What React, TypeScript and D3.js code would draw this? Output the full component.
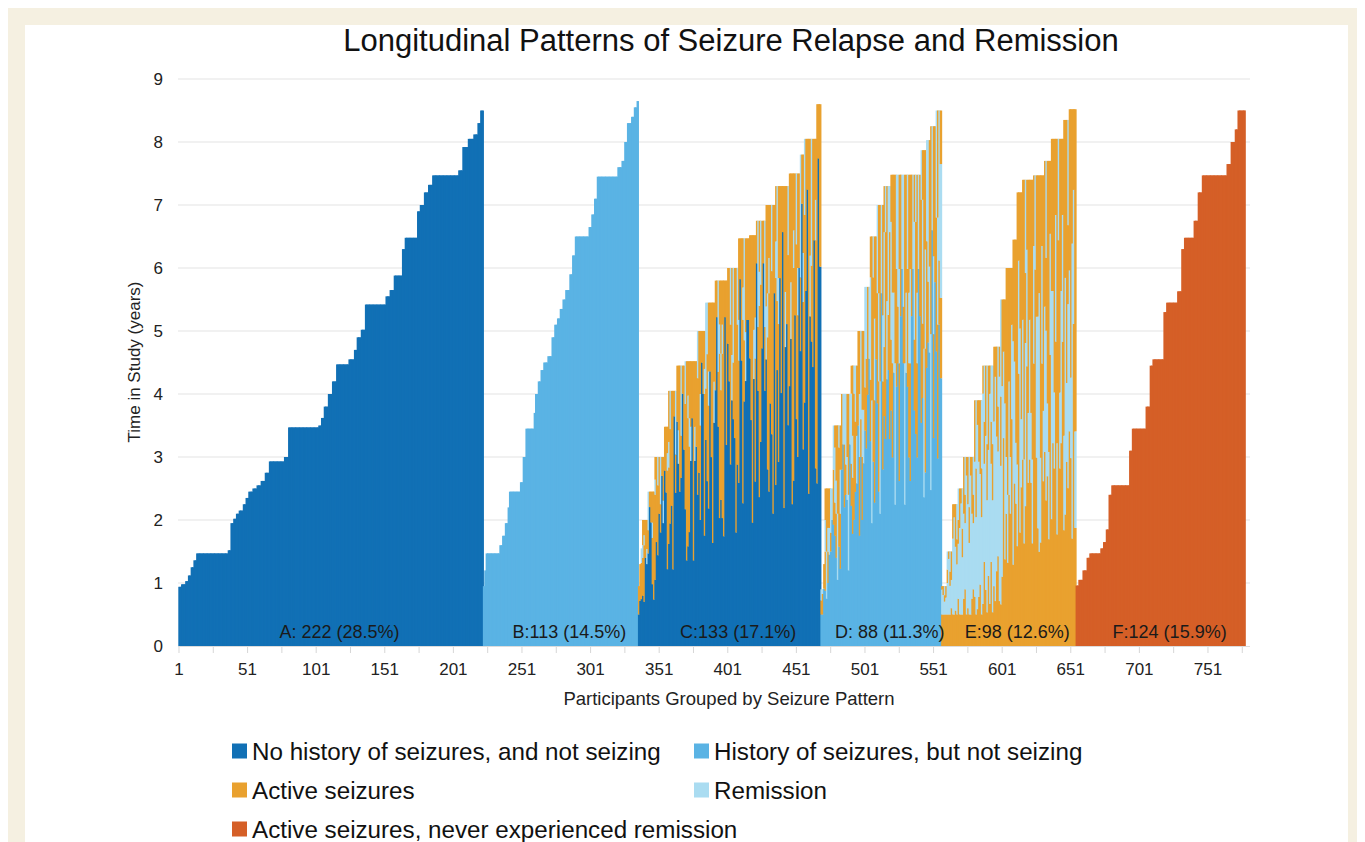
import React from "react";
import * as d3 from "d3";

// ---------- DATA ----------
const STATE_KEYS = ["N", "H", "A", "R", "F"];
const STATE_NAMES = [
  "No history of seizures, and not seizing",
  "History of seizures, but not seizing",
  "Active seizures",
  "Remission",
  "Active seizures, never experienced remission",
];
const STATE_COLORS = ["#1170b5", "#5ab3e4", "#e9a12f", "#aadcf1", "#d55f27"];

const GROUP_LABELS = [
  "A: 222 (28.5%)",
  "B:113 (14.5%)",
  "C:133 (17.1%)",
  "D: 88 (11.3%)",
  "E:98 (12.6%)",
  "F:124 (15.9%)",
];
const GROUP_BASE = ["N", "H", "N", "H", "A", "F"];

// time in study (years), run-length: [number of participants, years]
const A_RUNS = [
  [2, 0.94], [3, 0.98], [2, 1.03], [2, 1.12], [2, 1.25], [2, 1.36], [23, 1.47], [2, 1.52],
  [2, 1.95], [2, 2.02], [2, 2.1], [3, 2.15], [2, 2.25], [2, 2.35], [3, 2.45], [3, 2.5],
  [3, 2.55], [3, 2.62], [3, 2.75], [11, 2.93], [3, 3.0], [22, 3.47], [2, 3.5], [2, 3.62],
  [3, 3.8], [3, 4.0], [3, 4.2], [9, 4.47], [4, 4.55], [2, 4.7], [3, 4.9], [3, 5.02],
  [15, 5.42], [3, 5.55], [3, 5.65], [6, 5.88], [2, 6.3], [9, 6.48], [2, 6.9], [3, 7.0],
  [3, 7.2], [3, 7.32], [19, 7.47], [3, 7.55], [4, 7.92], [4, 8.05], [3, 8.12], [2, 8.3], [2, 8.5],
];
const B_RUNS = [
  [1, 0.95], [1, 1.2], [10, 1.47], [2, 1.6], [2, 1.75], [2, 1.95], [1, 2.2], [8, 2.45],
  [2, 2.6], [2, 3.0], [6, 3.45], [1, 3.7], [2, 4.0], [2, 4.2], [2, 4.38], [3, 4.5],
  [3, 4.6], [2, 4.9], [2, 5.1], [2, 5.2], [2, 5.35], [2, 5.5], [3, 5.65], [2, 5.9],
  [2, 6.2], [10, 6.5], [2, 6.65], [2, 6.85], [2, 7.1], [15, 7.45], [3, 7.6], [2, 7.7],
  [2, 8.0], [3, 8.3], [2, 8.4], [2, 8.55], [1, 8.65],
];
const C_RUNS = [
  [1, 0.95], [1, 1.3], [1, 1.55], [4, 2.0], [5, 2.45], [7, 3.0], [3, 3.48], [6, 4.05],
  [6, 4.45], [9, 4.52], [6, 5.0], [7, 5.45], [9, 5.8], [8, 6.0], [8, 6.47], [5, 6.52],
  [7, 6.75], [7, 7.0], [10, 7.3], [8, 7.5], [3, 7.8], [9, 8.05], [3, 8.6],
];
const D_RUNS = [
  [2, 0.9], [1, 1.3], [6, 2.5], [6, 3.5], [7, 4.0], [5, 4.45], [5, 5.0], [4, 5.7],
  [5, 6.5], [5, 7.0], [5, 7.3], [22, 7.48], [4, 7.87], [3, 8.03], [4, 8.25], [4, 8.5],
];
const E_RUNS = [
  [4, 0.95], [4, 1.5], [4, 2.25], [4, 2.5], [8, 3.0], [6, 3.9], [8, 4.45], [5, 4.75],
  [4, 5.5], [5, 6.0], [3, 6.45], [4, 7.2], [8, 7.4], [8, 7.47], [5, 7.7], [9, 8.05],
  [4, 8.35], [5, 8.52],
];
const F_RUNS = [
  [2, 0.96], [3, 1.05], [3, 1.2], [2, 1.4], [8, 1.47], [2, 1.55], [2, 1.65], [2, 1.85],
  [2, 2.4], [13, 2.55], [2, 3.1], [10, 3.45], [3, 3.8], [2, 4.45], [8, 4.55], [2, 5.3],
  [8, 5.45], [3, 5.63], [2, 6.3], [7, 6.48], [3, 6.75], [3, 7.2], [18, 7.47], [3, 7.65],
  [3, 8.0], [2, 8.2], [6, 8.5],
];
const GROUP_RUNS = [A_RUNS, B_RUNS, C_RUNS, D_RUNS, E_RUNS, F_RUNS];

// state sequences of the mixed groups: [state, share of the participant's time]
const C_PATTERNS = [
  [["N", 0.55], ["A", 0.45]],
  [["N", 0.4], ["A", 0.3], ["R", 0.1], ["A", 0.2]],
  [["N", 0.7], ["A", 0.3]],
  [["N", 0.3], ["A", 0.7]],
  [["N", 0.6], ["A", 0.15], ["R", 0.25]],
  [["N", 0.8], ["A", 0.2]],
  [["N", 0.48], ["A", 0.37], ["R", 0.15]],
  [["N", 0.35], ["A", 0.45], ["R", 0.08], ["A", 0.12]],
  [["N", 0.65], ["R", 0.12], ["A", 0.23]],
  [["N", 0.9], ["A", 0.1]],
];
const D_PATTERNS = [
  [["H", 0.55], ["A", 0.25], ["R", 0.2]],
  [["H", 0.4], ["A", 0.2], ["R", 0.15], ["A", 0.25]],
  [["H", 0.7], ["A", 0.3]],
  [["H", 0.3], ["R", 0.3], ["A", 0.4]],
  [["H", 0.6], ["A", 0.12], ["R", 0.28]],
  [["H", 0.45], ["A", 0.45], ["R", 0.1]],
  [["H", 0.8], ["R", 0.2]],
  [["H", 0.35], ["A", 0.25], ["R", 0.2], ["A", 0.2]],
  [["H", 0.58], ["R", 0.17], ["A", 0.25]],
  [["H", 0.5], ["A", 0.15], ["R", 0.25], ["A", 0.1]],
];
const E_PATTERNS = [
  [["A", 0.25], ["R", 0.45], ["A", 0.3]],
  [["A", 0.15], ["R", 0.75], ["A", 0.1]],
  [["A", 0.4], ["R", 0.3], ["A", 0.3]],
  [["A", 0.6], ["R", 0.25], ["A", 0.15]],
  [["A", 0.12], ["R", 0.4], ["A", 0.2], ["R", 0.28]],
  [["A", 0.35], ["R", 0.15], ["A", 0.5]],
  [["A", 0.2], ["R", 0.55], ["A", 0.25]],
  [["A", 0.8], ["R", 0.2]],
  [["A", 0.3], ["R", 0.35], ["A", 0.15], ["R", 0.2]],
  [["A", 0.22], ["R", 0.18], ["A", 0.6]],
];
const C_ORDER =
  "3061728495 1370624985 2716039458 0492637185 3826019574 6150382947 1739052684 0361927485 5203819476 2948170635 7415093826 0837261549 1629384057 392";
const D_ORDER =
  "0527318460 9135726048 3691508274 1840269357 2073619584 5918304726 4380172695 1625937048 36120749";
const E_ORDER =
  "1640814261 0486140816 4108641604 1864018461 08146 3059253625 9305298352 5937206935 2859302539 7523905825 639";
const GROUP_PATTERNS = [null, null, C_PATTERNS, D_PATTERNS, E_PATTERNS, null];
const GROUP_ORDER = [null, null, C_ORDER, D_ORDER, E_ORDER, null];
const BASE_MIN_YEARS = 0.5;

const X_TICK_LABELS = [1, 51, 101, 151, 201, 251, 301, 351, 401, 451, 501, 551, 601, 651, 701, 751];
const X_MINOR_TICKS = [1, 26, 51, 76, 101, 126, 151, 176, 201, 226, 251, 276, 301, 326, 351, 376, 401, 426, 451, 476, 501, 526, 551, 576, 601, 626, 651, 676, 701, 726, 751, 776];
const Y_TICKS = [0, 1, 2, 3, 4, 5, 6, 7, 8, 9];

// ---------- BUILD ----------
type Seg = { s: string; y0: number; y1: number };
type P = { id: number; g: number; h: number; segs: Seg[] };

function build(): P[] {
  const out: P[] = [];
  let id = 1;
  GROUP_RUNS.forEach((runs, g) => {
    const heights: number[] = [];
    runs.forEach(([n, v]) => {
      for (let k = 0; k < n; k++) heights.push(v);
    });
    const pats = GROUP_PATTERNS[g];
    const order = GROUP_ORDER[g] ? (GROUP_ORDER[g] as string).replace(/\s/g, "") : "";
    heights.forEach((h, i) => {
      let segs: Seg[];
      if (!pats) {
        segs = [{ s: GROUP_BASE[g], y0: 0, y1: h }];
      } else {
        const pat = pats[+order[i % order.length]] as [string, number][];
        const base = Math.max(pat[0][1] * h, Math.min(BASE_MIN_YEARS, h));
        const rest = h - base;
        const restShare = 1 - pat[0][1];
        segs = [{ s: pat[0][0], y0: 0, y1: base }];
        let acc = base;
        for (let k = 1; k < pat.length; k++) {
          const len = (pat[k][1] / restShare) * rest;
          segs.push({ s: pat[k][0], y0: acc, y1: acc + len });
          acc += len;
        }
      }
      out.push({ id: id++, g, h, segs });
    });
  });
  return out;
}

const FONT = "'Liberation Sans', Arial, Helvetica, sans-serif";

export default function App() {
  const parts = build();
  const total = parts.length;
  const x = d3
    .scaleBand<number>()
    .domain(parts.map((p) => p.id))
    .range([178.3, 1245.7])
    .padding(0);
  const bw = x.bandwidth();
  const y = d3.scaleLinear().domain([0, 9]).range([646, 79]);
  const color = d3.scaleOrdinal<string, string>().domain(STATE_KEYS).range(STATE_COLORS);

  const groups = GROUP_LABELS.map((lab, g) => {
    const members = parts.filter((p) => p.g === g);
    const x0 = x(members[0].id) as number;
    const x1 = (x(members[members.length - 1].id) as number) + bw;
    return { lab, cx: (x0 + x1) / 2 + 9 };
  });

  const legendItems = [
    { k: 0, x: 232, y: 751 },
    { k: 1, x: 694, y: 751 },
    { k: 2, x: 232, y: 790 },
    { k: 3, x: 694, y: 790 },
    { k: 4, x: 232, y: 829 },
  ];

  return (
    <svg width={1357} height={834} style={{ display: "block" }}>
      <g transform="translate(-8,-8)">
        <rect x={8} y={8} width={1357} height={834} fill="#f5f0e1" />
        <rect x={25} y={25} width={1323} height={830} fill="#ffffff" />
        <text x={731} y={51} textAnchor="middle" fontFamily={FONT} fontSize={31} fill="#111">
          Longitudinal Patterns of Seizure Relapse and Remission
        </text>

        {Y_TICKS.map((t) => (
          <g key={"gy" + t}>
            {t > 0 && (
              <line x1={178} x2={1250} y1={y(t)} y2={y(t)} stroke="#e4e4e4" strokeWidth={1.2} />
            )}
            <text
              x={163}
              y={y(t)}
              dy="0.36em"
              textAnchor="end"
              fontFamily={FONT}
              fontSize={17}
              fill="#222"
            >
              {t}
            </text>
          </g>
        ))}
        <line x1={178} x2={1250} y1={646.5} y2={646.5} stroke="#dcdcdc" strokeWidth={1} />

        {parts.map((p) =>
          p.segs.map((s, k) => (
            <rect
              key={p.id + "-" + k}
              x={x(p.id) as number}
              width={bw + (p.id === total ? 0 : 1.05)}
              y={y(s.y1)}
              height={y(s.y0) - y(s.y1)}
              fill={color(s.s)}
            />
          ))
        )}

        {groups.map((g) => (
          <text
            key={g.lab}
            x={g.cx}
            y={637.5}
            textAnchor="middle"
            fontFamily={FONT}
            fontSize={18}
            fill="#1a1a1a"
          >
            {g.lab}
          </text>
        ))}

        {X_MINOR_TICKS.filter((t) => t <= total).map((t) => (
          <line
            key={"mt" + t}
            x1={(x(t) as number) + bw / 2}
            x2={(x(t) as number) + bw / 2}
            y1={647}
            y2={653}
            stroke="#d6d6d6"
            strokeWidth={1}
          />
        ))}
        {X_TICK_LABELS.map((t) => (
          <text
            key={"xt" + t}
            x={(x(t) as number) + bw / 2}
            y={675}
            textAnchor="middle"
            fontFamily={FONT}
            fontSize={17}
            fill="#222"
          >
            {t}
          </text>
        ))}

        <text x={729} y={705} textAnchor="middle" fontFamily={FONT} fontSize={18.5} fill="#222">
          Participants Grouped by Seizure Pattern
        </text>
        <text
          transform="translate(140,362) rotate(-90)"
          textAnchor="middle"
          fontFamily={FONT}
          fontSize={17}
          fill="#222"
        >
          Time in Study (years)
        </text>

        {legendItems.map((it) => (
          <g key={"lg" + it.k}>
            <rect x={it.x} y={it.y - 7.5} width={15} height={15} fill={STATE_COLORS[it.k]} />
            <text
              x={it.x + 20}
              y={it.y}
              dy="0.36em"
              fontFamily={FONT}
              fontSize={24.2}
              fill="#111"
            >
              {STATE_NAMES[it.k]}
            </text>
          </g>
        ))}
      </g>
    </svg>
  );
}
